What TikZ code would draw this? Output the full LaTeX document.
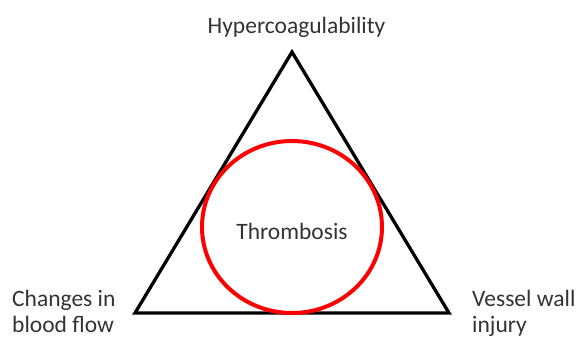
\documentclass[tikz,border=0pt]{standalone}
\usepackage{fontspec}
\setmainfont{Carlito}
\begin{document}
\begin{tikzpicture}[x=1pt,y=-1pt,
    lbl/.style={inner sep=0pt,text=black!80,font=\fontsize{23.5}{26}\selectfont}]
\useasboundingbox (0,0) rectangle (576,338);
% Virchow's triad
\coordinate (hyper) at (292,52);
\coordinate (flow) at (135,313);
\coordinate (wall) at (449,313);
\draw[line width=3.3pt,line join=miter] (hyper) -- (flow) -- (wall) -- cycle;
\draw[red,line width=4pt] (292,227) ellipse (90 and 86);
% labels
\node[lbl,anchor=base] (hyperlbl) at (296.5,33) {Hypercoagulability};
\node[lbl,anchor=base] (thrombo) at (292,239) {Thrombosis};
\node[lbl,anchor=base west,align=left] (flowlbl) at (12,332) {Changes in\\blood flow};
\node[lbl,anchor=base west,align=left] (walllbl) at (472,332) {Vessel wall\\injury};
\end{tikzpicture}
\end{document}
